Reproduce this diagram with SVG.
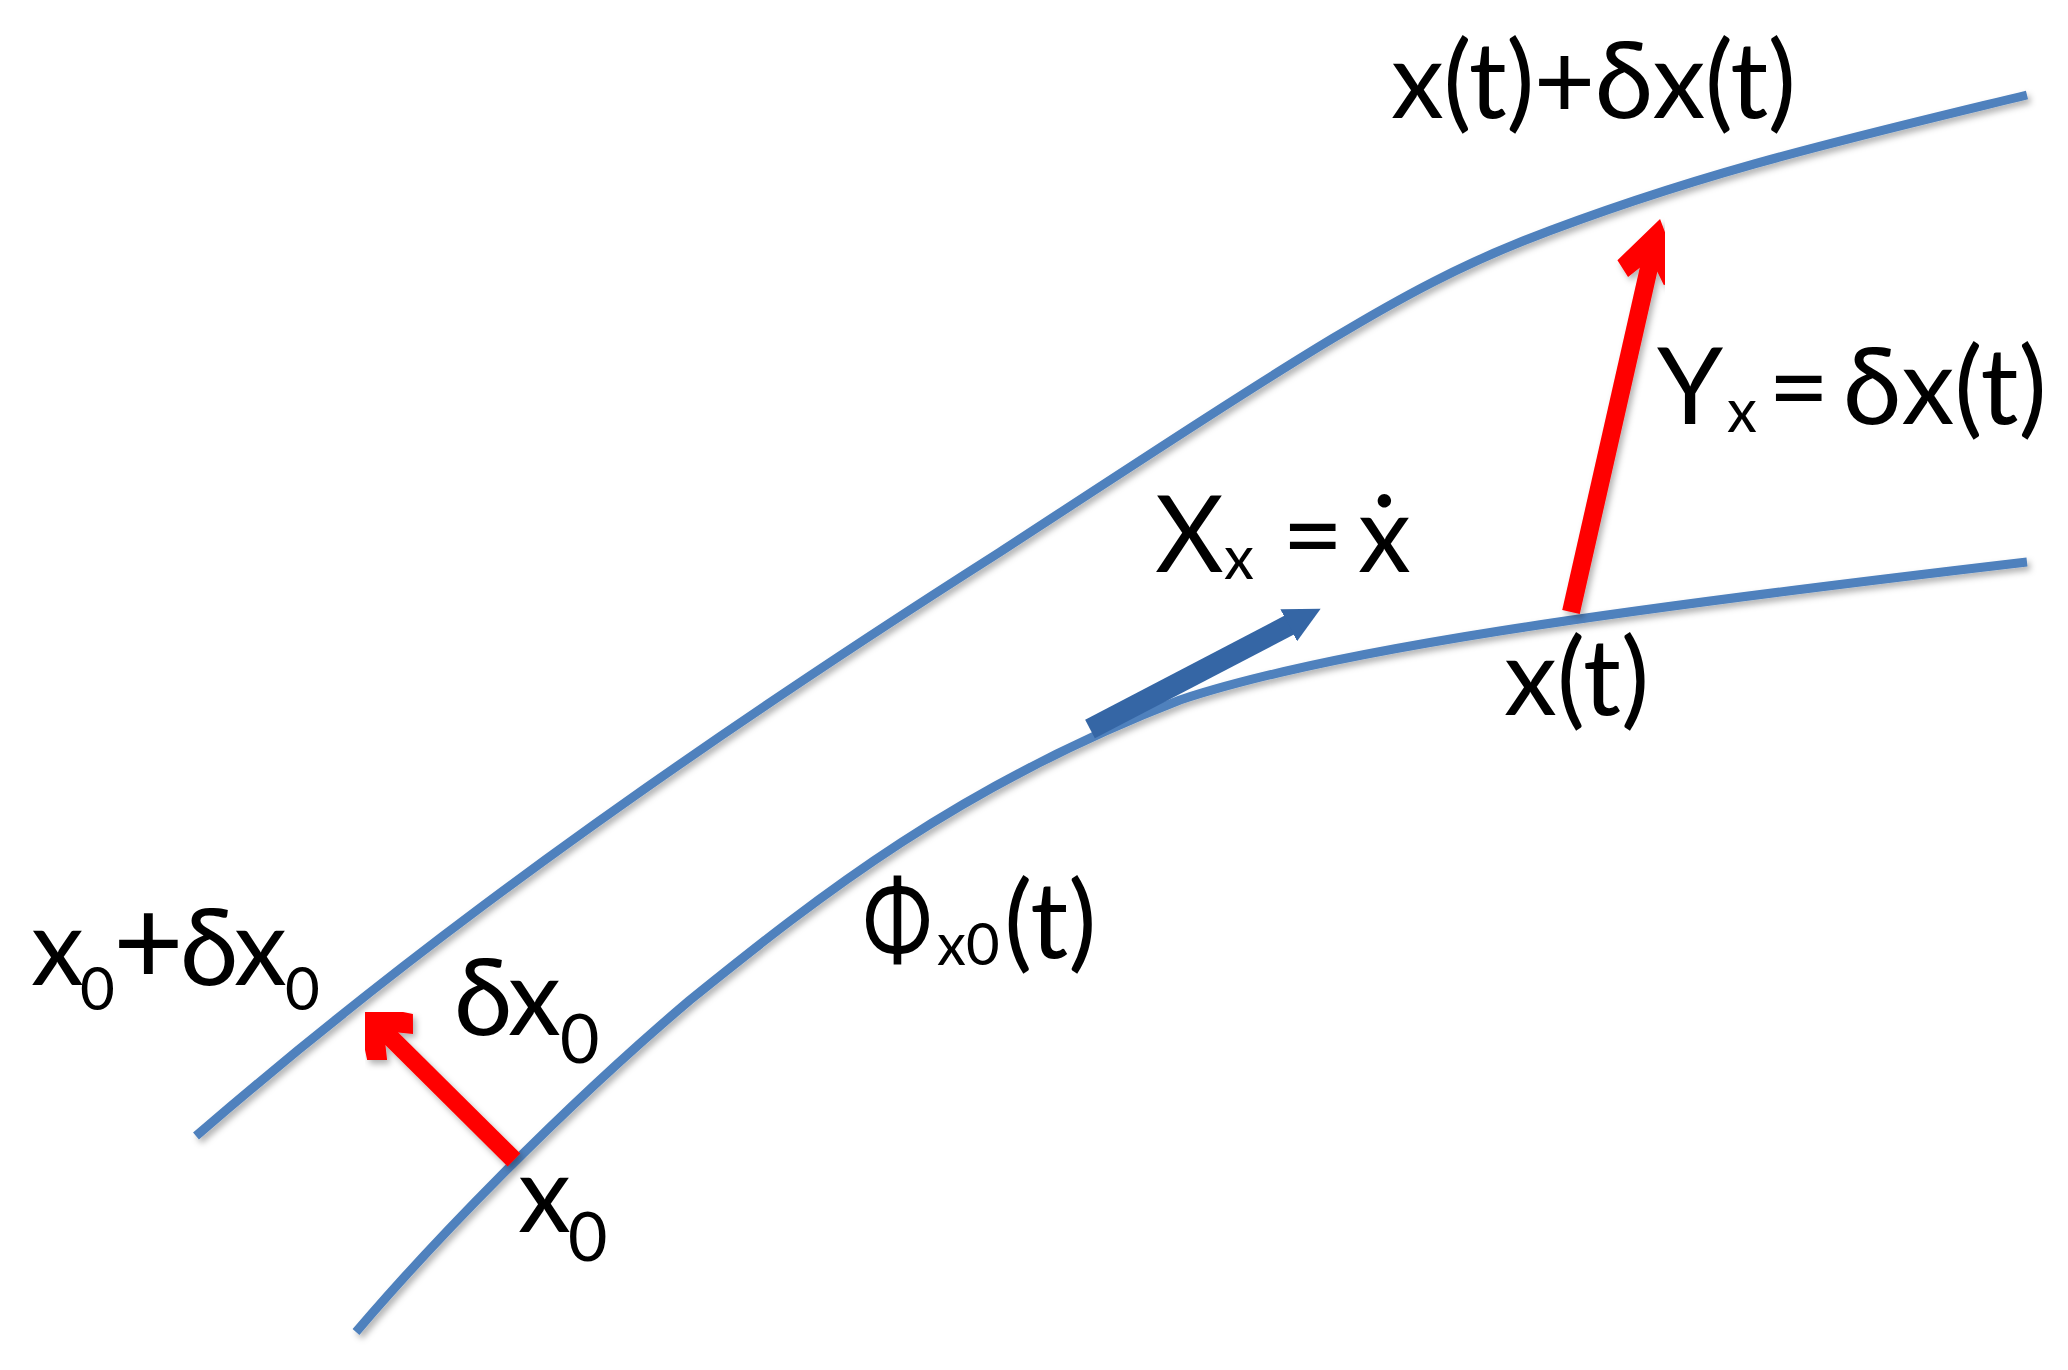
<svg xmlns="http://www.w3.org/2000/svg" width="2068" height="1370" viewBox="0 0 2068 1370">
<defs>
<style>
.curve{fill:none;stroke:#4F81BD;stroke-width:9;filter:url(#sh)}
.red{fill:none;stroke:#FF0000;stroke-width:18;marker-end:url(#redHead);filter:url(#sh)}
.blue{fill:none;stroke:#3566A5;stroke-width:21;marker-end:url(#blueHead)}
.lbl{font-family:Lato,"Noto Sans","DejaVu Sans",sans-serif;font-size:106px;fill:#000}
.sub{font-size:60px}
.sub2{font-size:68px}
</style>
<filter id="sh" x="-20%" y="-20%" width="140%" height="140%">
<feDropShadow dx="3" dy="4" stdDeviation="3" flood-color="#000" flood-opacity="0.3"/>
</filter>
<marker id="redHead" markerUnits="userSpaceOnUse" viewBox="0 0 64 68" refX="14" refY="34" markerWidth="64" markerHeight="68" orient="auto">
<path d="M64,34 L14.5,66.5 L0.4,52.4 L12,43 L12,25 L0.4,15.6 L14.5,1.5 Z" fill="#FF0000"/>
</marker>
<marker id="blueHead" markerUnits="userSpaceOnUse" viewBox="0 0 36 36" refX="2" refY="18" markerWidth="36" markerHeight="36" orient="auto">
<path d="M0,0 L36,18 L0,36 Z" fill="#3566A5"/>
</marker>
</defs>
<rect width="2068" height="1370" fill="#fff"/>
<g id="curves">
<path id="upper-curve" class="curve" d="M196,1136 C330,1020 560,832 1000,552 C1300,356 1400,290 1523,241 C1700,172 1850,138 2027,95"/>
<path id="lower-curve" class="curve" d="M356,1332 C430,1245 560,1110 690,1000 C820,895 960,785 1180,700 C1330,650 1600,612 2027,562"/>
</g>
<g id="connectors">
<path id="arrow-dx0" class="red" d="M514,1160 L390.4,1037.4"/>
<path id="arrow-dxt" class="red" d="M1571,612 L1649,267.8"/>
<path id="arrow-xdot" class="blue" d="M1090,729 L1290.5,624.4"/>
</g>
<g id="labels">
<g id="label-xt-dxt"><text class="lbl" x="1391" y="118" textLength="405">x(t)+δx(t)</text></g>
<g id="label-Yx"><text class="lbl" y="424"><tspan x="1657">Y</tspan><tspan class="sub" x="1727" y="432">x</tspan><tspan x="1768" y="424">=</tspan><tspan x="1843">δx(t)</tspan></text></g>
<g id="label-Xx"><text class="lbl" y="572"><tspan x="1155">X</tspan><tspan class="sub" x="1224" y="579">x</tspan><tspan x="1282" y="572">=</tspan><tspan x="1358">ẋ</tspan></text></g>
<g id="label-xt"><text class="lbl" x="1504" y="715">x(t)</text></g>
<g id="label-phi">
<text class="lbl" transform="translate(863,958) scale(0.78,1)" x="0" y="0">Φ</text>
<text class="lbl sub" x="937" y="965" style="font-size:58px">x0</text>
<text class="lbl" x="1004" y="958">(t)</text>
</g>
<g id="label-x0-dx0"><text class="lbl" y="985"><tspan x="31">x</tspan><tspan class="sub" x="80" y="1010">0</tspan><tspan x="113" y="985" style="font-size:122px">+</tspan><tspan x="180">δ</tspan><tspan x="234">x</tspan><tspan class="sub" x="285" y="1010">0</tspan></text></g>
<g id="label-dx0"><text class="lbl" y="1035"><tspan x="454">δ</tspan><tspan x="508">x</tspan><tspan class="sub2" x="560" y="1063">0</tspan></text></g>
<g id="label-x0"><text class="lbl" y="1232"><tspan x="518">x</tspan><tspan class="sub2" x="568" y="1261">0</tspan></text></g>
</g>
</svg>
